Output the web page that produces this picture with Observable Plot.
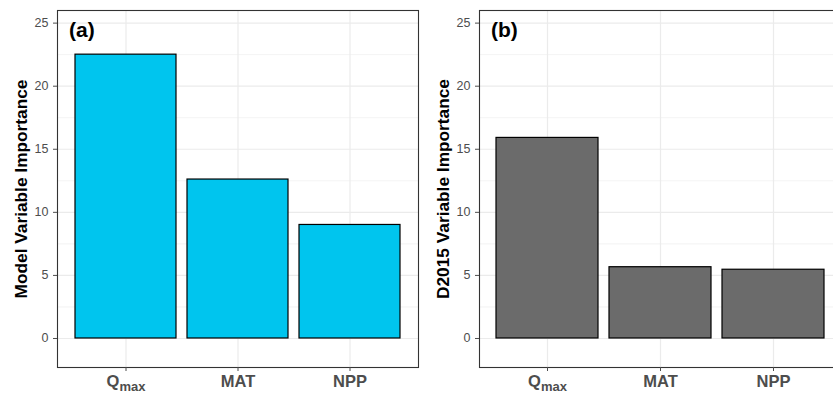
<!DOCTYPE html>
<html>
<head>
<meta charset="utf-8">
<script src="https://cdn.jsdelivr.net/npm/d3@7"></script>
<script src="https://cdn.jsdelivr.net/npm/@observablehq/plot@0.6"></script>
<style>
  html, body { margin: 0; padding: 0; background: #fff; }
  #wrap { position: relative; width: 833px; height: 394px; overflow: hidden; background: #fff; }
  #pa, #pb { position: absolute; top: 0; height: 394px; }
  #pa { left: 0; width: 420px; }
  #pb { left: 420px; width: 424px; }
  #wrap svg { max-width: none !important; }
</style>
</head>
<body>
<div id="wrap"><div id="pa"></div><div id="pb"></div></div>
<script>
const categories = ["Qmax", "MAT", "NPP"];
const modelImportance = [22.5, 12.6, 9.0];
const d2015Importance = [15.9, 5.65, 5.45];
const yTicks = [0, 5, 10, 15, 20, 25];
const yMinor = [2.5, 7.5, 12.5, 17.5, 22.5];
const panelLabels = ["(a)", "(b)"];
const axisTitles = ["Model Variable Importance", "D2015 Variable Importance"];

const font = "'Liberation Sans', Arial, Helvetica, sans-serif";

function panel(values, fill, label, title, width, marginLeft, marginRight) {
  const data = categories.map((c, i) => ({cat: c, value: values[i]}));
  const svg = Plot.plot({
    width, height: 394,
    marginLeft, marginRight, marginTop: 10, marginBottom: 27,
    style: {fontFamily: font, background: "#fff", maxWidth: "none"},
    x: {domain: categories, paddingInner: 0.1, paddingOuter: 0.15, label: null},
    y: {domain: [-2.3, 26], label: null},
    marks: [
      Plot.ruleY(yMinor, {stroke: "#EBEBEB", strokeWidth: 0.6}),
      Plot.ruleY(yTicks, {stroke: "#EBEBEB", strokeWidth: 1.2}),
      Plot.gridX(categories, {stroke: "#EBEBEB", strokeOpacity: 1, strokeWidth: 1.2}),
      Plot.barY(data, {x: "cat", y: "value", fill, stroke: "#000", strokeWidth: 1.2}),
      Plot.frame({stroke: "#333", strokeWidth: 1.1}),
      Plot.axisY({ticks: yTicks, tickSize: 4, tickPadding: 5, fontSize: 12.5, color: "#4D4D4D", label: null}),
      Plot.axisX({tickSize: 4, tickPadding: 4, fontSize: 16.5, fontWeight: "bold", color: "#4D4D4D", label: null}),
      Plot.text([title], {frameAnchor: "left", text: d => d, rotate: -90, dx: -36.5, fontSize: 17.3, fontWeight: "bold", fill: "#000", textAnchor: "middle"}),
      Plot.text([label], {frameAnchor: "top-left", text: d => d, dx: 11.5, dy: 12, fontSize: 21, fontWeight: "bold", fill: "#000", textAnchor: "start", lineAnchor: "top"})
    ]
  });
  // subscript for Qmax
  d3.select(svg).selectAll("text").each(function() {
    if (this.textContent === "Qmax" && this.children.length === 0) {
      const t = d3.select(this);
      t.text("Q");
      t.append("tspan").attr("dy", "4").attr("font-size", "13").text("max");
    }
  });
  return svg;
}

document.getElementById("pa").appendChild(panel(modelImportance, "#00C5EE", panelLabels[0], axisTitles[0], 420, 57, 2));
document.getElementById("pb").appendChild(panel(d2015Importance, "#6B6B6B", panelLabels[1], axisTitles[1], 424, 59, 3));
</script>
</body>
</html>
